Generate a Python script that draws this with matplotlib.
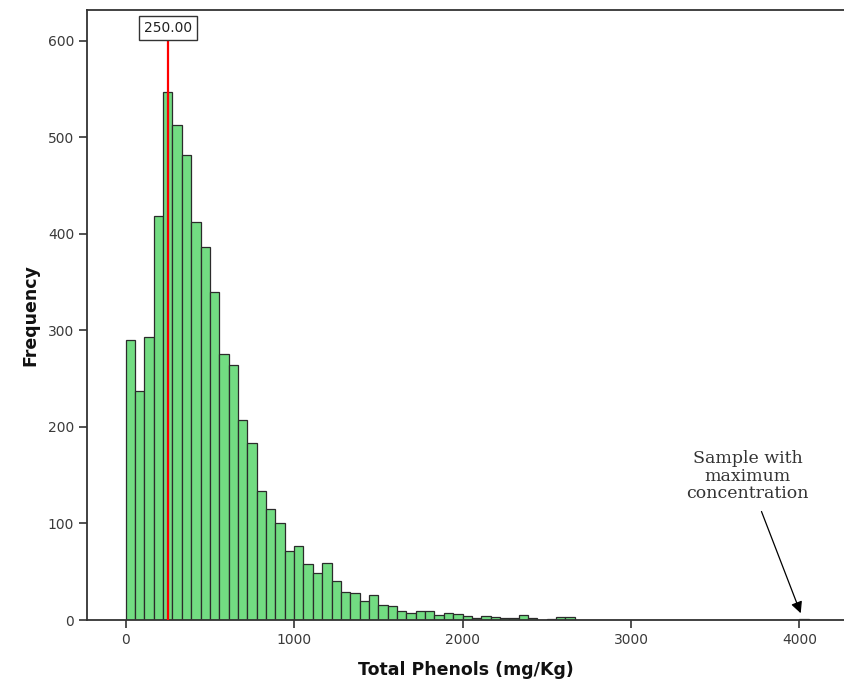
import numpy as np
import matplotlib
matplotlib.use("Agg")
import matplotlib.pyplot as plt

# Histogram of total phenols (SPSS style), bins of 1000/18 mg/Kg starting at 0
bin_start = 0.0
bin_width = 1000.0 / 18
counts = [290, 237, 293, 419, 547, 513, 482, 412, 386, 340,
          276, 264, 207, 183, 134, 115, 101, 71, 77, 58,
          49, 59, 40, 29, 28, 20, 26, 16, 15, 9,
          7, 9, 9, 5, 7, 6, 4, 2, 4, 3,
          2, 2, 5, 2, 0, 1, 3, 3, 0, 0,
          0, 0, 0, 0, 0, 0, 0, 0, 0, 0,
          0, 0, 0, 0, 0, 0, 0, 0, 0, 0,
          0, 0, 1]
ref_value = 250.0
ref_label = "250.00"
x_ticks = [0, 1000, 2000, 3000, 4000]
y_ticks = [0, 100, 200, 300, 400, 500, 600]
max_sample = 4008
note = "Sample with\nmaximum\nconcentration"

fig = plt.figure(figsize=(8.44, 6.84), dpi=100)
ax = fig.add_axes([87.3 / 844, 1 - 620 / 684, 1 - 87.3 / 844, 610 / 684])

edges = bin_start + bin_width * np.arange(len(counts))
ax.bar(edges, counts, width=bin_width, align="edge", color="#72dc82",
       edgecolor="#2b2b2b", linewidth=0.9, zorder=2)

ax.axvline(ref_value, ymin=0, ymax=0.96, color="red", linewidth=1.6, zorder=3)
ax.text(ref_value, 613, ref_label, ha="center", va="center", fontsize=10,
        color="#222222", family="DejaVu Sans",
        bbox=dict(boxstyle="square,pad=0.35", facecolor="white",
                  edgecolor="#333333", linewidth=1.0), zorder=4)

ax.annotate(note, xy=(max_sample, 7), xytext=(3694, 122),
            ha="center", va="bottom", fontsize=12.5, family="DejaVu Serif",
            color="#333333", linespacing=1.05,
            arrowprops=dict(arrowstyle="-|>", color="black", lw=0.9,
                            mutation_scale=17, shrinkA=5, shrinkB=0))

ax.set_xlim(-228, 4265)
ax.set_ylim(0, 632)
ax.set_xticks(x_ticks)
ax.set_yticks(y_ticks)
ax.tick_params(direction="out", length=6, width=1.2, color="#333333",
               labelsize=10, labelcolor="#3a3a3a")
for side in ["left", "top", "bottom"]:
    ax.spines[side].set_color("#333333")
    ax.spines[side].set_linewidth(1.3)
ax.spines["right"].set_visible(False)

ax.set_xlabel("Total Phenols (mg/Kg)", fontsize=12.5, fontweight="bold",
              family="DejaVu Sans", color="#111111", labelpad=10)
ax.set_ylabel("Frequency", fontsize=12.5, fontweight="bold",
              family="DejaVu Sans", color="#111111", labelpad=6)

fig.savefig("out.png", dpi=100)
